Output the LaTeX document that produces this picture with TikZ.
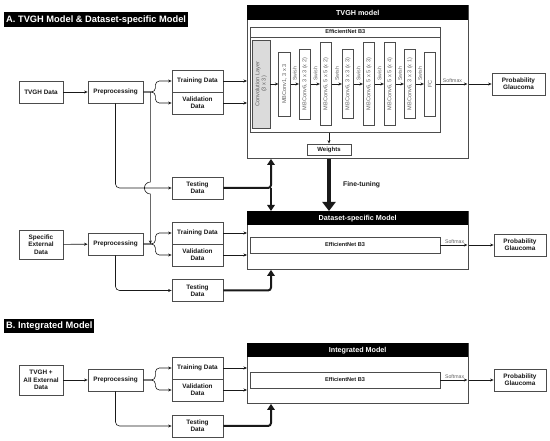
\documentclass[tikz,border=0pt]{standalone}
\usepackage{fontspec}
\setmainfont{Liberation Sans}
\usetikzlibrary{arrows.meta}
\definecolor{ink}{gray}{0.10}
\definecolor{edge}{gray}{0.30}
\definecolor{soft}{gray}{0.38}
\definecolor{shade}{gray}{0.86}

\tikzset{
  box/.style={draw=edge, line width=0.8pt, fill=white, align=center, inner sep=1pt,
    minimum width=51pt, minimum height=22pt, text=ink,
    font=\fontsize{6.4}{7.4}\selectfont\bfseries},
  blk/.style={draw=edge, line width=0.7pt, rotate=90, align=center, inner sep=0.5pt,
    minimum height=11.5pt, text=soft, font=\fontsize{5.6}{6.2}\selectfont},
  model/.style={draw=edge, line width=0.9pt, inner sep=0pt, anchor=north west},
  net/.style={draw=edge, line width=0.7pt, inner sep=0pt, minimum width=190pt,
    text=ink, font=\fontsize{5.6}{6.4}\selectfont\bfseries},
  bar/.style={fill=black, text=white, inner sep=2pt, anchor=north west,
    font=\fontsize{7.2}{8.2}\selectfont\bfseries},
  arr/.style={ink, line width=0.6pt, -{Stealth[length=3.5pt,width=3pt]}},
  fat/.style={ink, line width=2pt, -{Triangle[length=6pt,width=7.5pt]}},
  tag/.style={text=soft, inner sep=0.5pt, font=\fontsize{5.2}{5.6}\selectfont},
  swish/.style={tag, rotate=90, anchor=west, inner xsep=3pt},
}

\begin{document}
\begin{tikzpicture}[x=1pt,y=-1pt]
  \useasboundingbox (0,0) rectangle (550,441);

  % section titles
  \node[bar, minimum height=15pt, font=\fontsize{9.3}{11}\selectfont\bfseries] (hA) at (4,12) {A. TVGH Model \& Dataset-specific Model};
  \node[bar, minimum height=14pt, font=\fontsize{9.3}{11}\selectfont\bfseries] (hB) at (4,319) {B. Integrated Model};

  % TVGH model with the EfficientNet B3 layers
  \node[model, minimum width=221pt, minimum height=153pt] (tvgh) at (247,5) {};
  \node[bar, minimum width=221pt, minimum height=15pt] at (tvgh.north west) {TVGH model};
  \node[net, minimum height=105pt, anchor=north west] (effA) at (250,27) {};
  \draw[edge, line width=0.7pt] ([yshift=-10pt]effA.north west) -- ([yshift=-10pt]effA.north east);
  \node[font=\fontsize{5.6}{6.4}\selectfont\bfseries, text=ink] at ([yshift=-5pt]effA.north) {EfficientNet B3};

  \node[blk, fill=shade, minimum width=88pt, minimum height=18pt] (c0) at (261,84) {Convolution Layer\\(3 x 3)};
  \node[blk, minimum width=64pt] (b1) at (284.5,84) {MBConv1, 3 x 3};
  \node[blk, minimum width=70pt] (b2) at (305,84) {MBConv6, 3 x 3 (x 2)};
  \node[blk, minimum width=83pt] (b3) at (326,84) {MBConv6, 5 x 5 (x 2)};
  \node[blk, minimum width=69pt] (b4) at (348,84) {MBConv6, 3 x 3 (x 3)};
  \node[blk, minimum width=83pt] (b5) at (369,84) {MBConv6, 5 x 5 (x 3)};
  \node[blk, minimum width=83pt] (b6) at (390,84) {MBConv6, 5 x 5 (x 4)};
  \node[blk, minimum width=69pt] (b7) at (410,84) {MBConv6, 3 x 3 (x 1)};
  \node[blk, minimum width=64pt] (fc) at (430,84) {FC};

  \draw[arr] (c0) -- (b1);
  \draw[arr] (b1) -- (b2) node[midway, swish] {Swish};
  \draw[arr] (b2) -- (b3) node[midway, swish] {Swish};
  \draw[arr] (b3) -- (b4) node[midway, swish] {Swish};
  \draw[arr] (b4) -- (b5) node[midway, swish] {Swish};
  \draw[arr] (b5) -- (b6) node[midway, swish] {Swish};
  \draw[arr] (b6) -- (b7) node[midway, swish] {Swish};
  \draw[arr] (b7) -- (fc) node[midway, swish] {Swish};

  \node[box, minimum width=44pt, minimum height=11pt, font=\fontsize{6}{6.6}\selectfont\bfseries] (wts) at (329,149.5) {Weights};
  \draw[arr] (effA.south -| wts) -- (wts);

  % the two other models
  \node[model, minimum width=221pt, minimum height=58pt] (ds) at (247,211) {};
  \node[bar, minimum width=221pt, minimum height=14pt] at (ds.north west) {Dataset-specific Model};
  \node[net, minimum height=16pt] (effB) at (345,245) {EfficientNet B3};

  \node[model, minimum width=221pt, minimum height=60pt] (im) at (247,343) {};
  \node[bar, minimum width=221pt, minimum height=14pt] at (im.north west) {Integrated Model};
  \node[net, minimum height=16pt] (effC) at (345,380) {EfficientNet B3};

  % outputs
  \node[box, minimum width=53pt] (prA) at (518.5,84) {Probability\\Glaucoma};
  \node[box, minimum width=52pt] (prB) at (520,245) {Probability\\Glaucoma};
  \node[box, minimum width=52pt] (prC) at (520,380) {Probability\\Glaucoma};

  \draw[arr, shorten >=1.5pt] (fc) -- (tvgh.east |- fc) node[midway, above=0.5pt, tag] {Softmax};
  \draw[arr] (tvgh.east |- prA) -- (prA);
  \draw[arr, shorten >=1.5pt] (effB) -- (ds.east |- effB) node[midway, above=0.5pt, tag] {Softmax};
  \draw[arr] (ds.east |- prB) -- (prB);
  \draw[arr, shorten >=1.5pt] (effC) -- (im.east |- effC) node[midway, above=0.5pt, tag] {Softmax};
  \draw[arr] (im.east |- prC) -- (prC);

  % data side, TVGH
  \node[box, minimum width=44pt] (dA) at (41,92) {TVGH Data};
  \node[box, minimum width=55pt] (pA) at (115.5,92) {Preprocessing};
  \node[box] (trA) at (197.5,81) {Training Data};
  \node[box] (vaA) at (197.5,103) {Validation\\Data};
  \node[box] (tsA) at (197.5,188) {Testing\\Data};

  % data side, specific external
  \node[box, minimum width=44pt, minimum height=29pt] (dB) at (41,244.5) {Specific\\External\\Data};
  \node[box, minimum width=55pt] (pB) at (115.5,244) {Preprocessing};
  \node[box] (trB) at (197.5,233) {Training Data};
  \node[box] (vaB) at (197.5,255) {Validation\\Data};
  \node[box] (tsB) at (197.5,290.5) {Testing\\Data};

  % data side, integrated
  \node[box, minimum width=44pt, minimum height=30pt] (dC) at (41,380) {TVGH +\\All External\\Data};
  \node[box, minimum width=55pt] (pC) at (115.5,380) {Preprocessing};
  \node[box] (trC) at (197.5,368) {Training Data};
  \node[box] (vaC) at (197.5,390) {Validation\\Data};
  \node[box] (tsC) at (197.5,426) {Testing\\Data};

  \draw[arr] (dA) -- (pA);
  \draw[arr] (dB) -- (pB);
  \draw[arr] (dC) -- (pC);

  % splits into training and validation
  \draw[arr, rounded corners=4pt] (pA.east) -- ++(12,0) |- (trA);
  \draw[arr, rounded corners=4pt] (pA.east) -- ++(12,0) |- (vaA);
  \draw[arr, rounded corners=4pt] (pB.east) -- ++(12,0) |- (trB);
  \draw[arr, rounded corners=4pt] (pB.east) -- ++(12,0) |- (vaB);
  \draw[arr, rounded corners=4pt] (pC.east) -- ++(12,0) |- (vaC);
  \draw[arr, rounded corners=4pt] (pC.east) -- ++(12,0) |- (trC);
  \draw[arr, rounded corners=4pt] (pA) |- (tsA);
  \draw[arr, rounded corners=4pt] (pB) |- (tsB);
  \draw[arr, rounded corners=4pt] (pC) |- (tsC);

  % TVGH data also goes into the dataset-specific split, hopping over the testing line
  \coordinate (sA) at ([xshift=7pt]pA.east);
  \coordinate (sB) at ([xshift=7pt]pB.east);
  \draw[arr] (sA) -- ([yshift=6pt]sA |- tsA) arc[start angle=90, end angle=270, radius=6pt] -- (sB);

  \draw[arr] (trA) -- (trA -| tvgh.west);
  \draw[arr] (vaA) -- (vaA -| tvgh.west);
  \draw[arr] (trB) -- (trB -| ds.west);
  \draw[arr] (vaB) -- (vaB -| ds.west);
  \draw[arr] (trC) -- (trC -| im.west);
  \draw[arr] (vaC) -- (vaC -| im.west);

  % testing data into the models
  \coordinate (jA) at ([xshift=24pt]tvgh.west |- tsA);
  \draw[fat, rounded corners=3pt] (tsA) -| (jA |- tvgh.south);
  \draw[fat] (jA) -- (jA |- ds.north);
  \draw[fat, rounded corners=3pt] (tsB) -| (jA |- ds.south);
  \draw[fat, rounded corners=3pt] (tsC) -| (jA |- im.south);

  % fine-tuning
  \draw[fat, line width=3.6pt, -{Triangle[length=9pt,width=13pt]}] (wts |- tvgh.south) -- (wts |- ds.north)
    node[midway, right=9pt, text=ink, font=\fontsize{6.8}{7.8}\selectfont\bfseries] {Fine-tuning};
\end{tikzpicture}
\end{document}
